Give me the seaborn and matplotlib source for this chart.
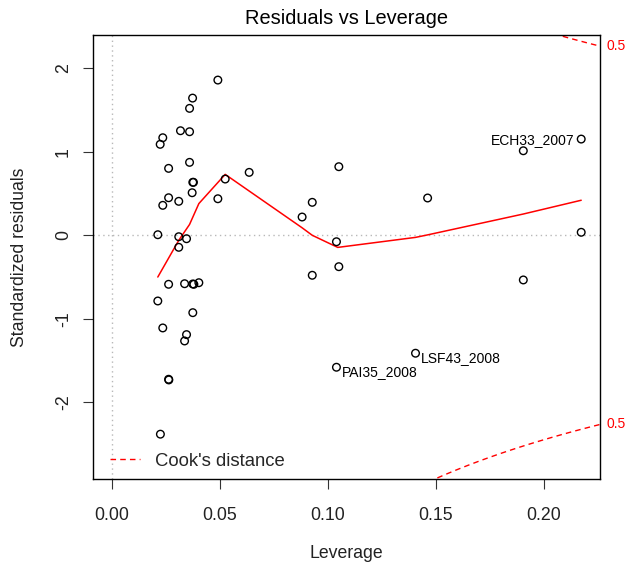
import numpy as np
import pandas as pd
import matplotlib
matplotlib.use("Agg")
import matplotlib.pyplot as plt
import seaborn as sns
from matplotlib.lines import Line2D

# ---- data ----
leverage = [0.0491, 0.0374, 0.0360, 0.0318, 0.0360, 0.0236, 0.0224, 0.0263, 0.0360, 0.0636,
            0.0525, 0.0375, 0.0378, 0.0372, 0.0263, 0.0236, 0.0310, 0.0491, 0.0213, 0.0310,
            0.0346, 0.0310, 0.0263, 0.0337, 0.0375, 0.0380, 0.0403, 0.0213, 0.0375, 0.0236,
            0.0346, 0.0337, 0.0263, 0.0264, 0.0225, 0.1051, 0.0928, 0.0881, 0.1462, 0.1905,
            0.2173, 0.2173, 0.1040, 0.1051, 0.0928, 0.1905, 0.1406, 0.1040]
std_resid = [1.860, 1.644, 1.521, 1.253, 1.241, 1.169, 1.090, 0.802, 0.874, 0.754,
             0.674, 0.635, 0.635, 0.510, 0.450, 0.359, 0.407, 0.438, 0.007, -0.017,
             -0.041, -0.144, -0.587, -0.580, -0.583, -0.587, -0.568, -0.787, -0.927, -1.110,
             -1.190, -1.266, -1.725, -1.733, -2.383, 0.822, 0.395, 0.219, 0.447, 1.013,
             1.153, 0.036, -0.077, -0.376, -0.479, -0.535, -1.413, -1.581]

smooth_x = [0.0213, 0.0310, 0.0360, 0.0403, 0.0525, 0.0881, 0.0928, 0.1046, 0.1406, 0.1462, 0.1905, 0.2173]
smooth_y = [-0.50, -0.06, 0.13, 0.38, 0.73, 0.09, 0.00, -0.145, -0.025, 0.005, 0.255, 0.42]

id_labels = ["ECH33_2007", "LSF43_2008", "PAI35_2008"]
id_x = [0.2173, 0.1406, 0.1040]
id_y = [1.153, -1.413, -1.581]
id_side = ["left", "right", "right"]

cook_level = 0.5
n_params = 3

x_ticks = [0.00, 0.05, 0.10, 0.15, 0.20]
x_tick_labels = ["0.00", "0.05", "0.10", "0.15", "0.20"]
y_ticks = [-2, -1, 0, 1, 2]
y_tick_labels = ["-2", "-1", "0", "1", "2"]

title = "Residuals vs Leverage"
x_label = "Leverage"
y_label = "Standardized residuals"
legend_label = "Cook's distance"

# ---- plotting ----
sns.set_theme(style="white")
plt.rcParams["font.family"] = ["Liberation Sans", "DejaVu Sans"]
plt.rcParams["axes.unicode_minus"] = False

W, H = 641, 566
fig = plt.figure(figsize=(W / 100, H / 100), dpi=100)
left, right, top, bottom = 93, 600, 35, 479
ax = fig.add_axes([left / W, 1 - bottom / H, (right - left) / W, (bottom - top) / H])

xlim = (-0.0087, 0.2260)
ylim = (-2.92, 2.40)
ax.set_xlim(*xlim)
ax.set_ylim(*ylim)

# reference dotted lines
ax.axhline(0, color="#b8b8b8", lw=1.0, ls=(0, (1, 2.5)), zorder=1)
ax.axvline(0, color="#b8b8b8", lw=1.0, ls=(0, (1, 2.5)), zorder=1)

df = pd.DataFrame({"leverage": leverage, "resid": std_resid})
sns.scatterplot(data=df, x="leverage", y="resid", ax=ax, marker="o",
                facecolor="none", edgecolor="black", linewidth=1.0, s=30, zorder=3)

sm = pd.DataFrame({"x": smooth_x, "y": smooth_y})
sns.lineplot(data=sm, x="x", y="y", ax=ax, color="red", lw=1.1, sort=False,
             estimator=None, zorder=2)

# Cook's distance contours
hh = np.linspace(0.0002, xlim[1], 101)
cd = np.sqrt(cook_level * n_params * (1 - hh) / hh)
dash = (0, (4, 3))
ax.plot(hh, cd, color="red", lw=1.0, ls=dash, zorder=2)
ax.plot(hh, -cd, color="red", lw=1.0, ls=dash, zorder=2)
end_val = np.sqrt(cook_level * n_params * (1 - xlim[1]) / xlim[1])
for v in (end_val, -end_val):
    ax.annotate(f"{cook_level}", xy=(1, v), xycoords=("axes fraction", "data"),
                xytext=(4.5, 0), textcoords="offset points", color="red",
                fontsize=10, va="center", ha="left", annotation_clip=False)

# id labels
for lab, xx, yy, side in zip(id_labels, id_x, id_y, id_side):
    if side == "left":
        ax.annotate(lab, xy=(xx, yy), xytext=(-4.5, -1), textcoords="offset points",
                    ha="right", va="center", fontsize=10, color="black")
    else:
        ax.annotate(lab, xy=(xx, yy), xytext=(4, -3.2), textcoords="offset points",
                    ha="left", va="center", fontsize=10, color="black")

# legend
handle = Line2D([0], [0], color="red", lw=1.0, ls=dash)
ax.legend([handle], [legend_label], loc="center left", frameon=False, fontsize=13.3,
          handlelength=1.6, handletextpad=0.85, borderaxespad=0.0, borderpad=0.0,
          bbox_to_anchor=(17 / (right - left), (bottom - 461) / (bottom - top)))

ax.set_xticks(x_ticks)
ax.set_xticklabels(x_tick_labels)
ax.set_yticks(y_ticks)
ax.set_yticklabels(y_tick_labels, rotation=90, va="center")
ax.tick_params(axis="both", direction="out", length=7.2, width=0.8, color="#333333",
               labelsize=12.8, labelcolor="#222222", bottom=True, left=True)
ax.tick_params(axis="x", pad=13)
ax.tick_params(axis="y", pad=8)

for sp in ax.spines.values():
    sp.set_color("black")
    sp.set_linewidth(1.0)

ax.set_xlabel(x_label, fontsize=12.7, color="#222222")
ax.set_ylabel(y_label, fontsize=12.7, color="#222222")
ax.xaxis.set_label_coords(0.5, (bottom - 553) / (bottom - top))
ax.xaxis.label.set_va("center")
ax.yaxis.set_label_coords((20 - left) / (right - left), 0.5)
ax.yaxis.label.set_va("center")

ax.set_title(title, fontsize=14.4, pad=0, y=1 + (top - 18) / (bottom - top), va="center",
             color="black")

fig.savefig("out.png", dpi=100)
